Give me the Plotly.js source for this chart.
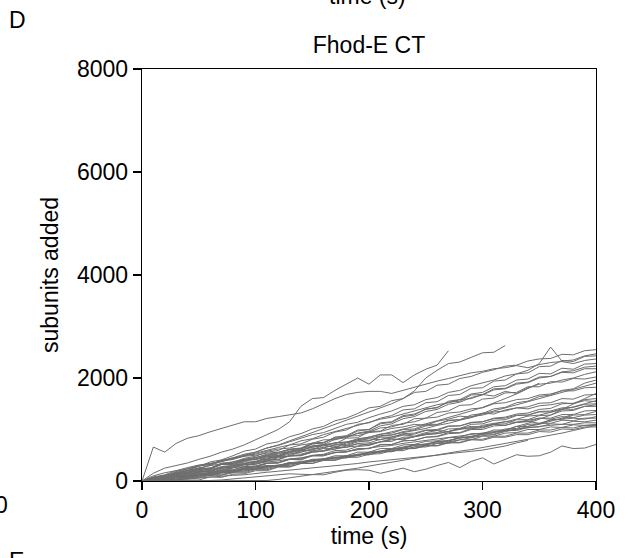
<!DOCTYPE html>
<html>
<head>
<meta charset="utf-8">
<script src="https://cdn.plot.ly/plotly-3.0.1.min.js"></script>
<style>html,body{margin:0;padding:0;background:#fff;}#chart{width:629px;height:558px;}</style>
</head>
<body>
<div id="chart"></div>
<script>
// time points (s)
const T = [0,10,20,30,40,50,60,70,80,90,100,110,120,130,140,150,160,170,180,190,200,210,220,230,240,250,260,270,280,290,300,310,320,330,340,350,360,370,380,390,400];
const xTicks = [0,100,200,300,400];
const yTicks = [0,2000,4000,6000,8000];

// subunits added, one array per filament
const s01 = [0,40,110,150,230,280,370,410,490,580,620,720,760,860,920,1010,1060,1170,1220,1310,1420,1450,1560,1600,1720,1740,1860,1880,1990,2030,2110,2160,2230,2250,2330,2370,2380,2460,2450,2530,2550];
const s02 = [0,60,80,170,200,290,320,400,450,520,560,640,690,760,820,900,940,1020,1100,1140,1230,1300,1360,1450,1480,1580,1620,1720,1760,1850,1900,1960,2040,2080,2150,2280,2600,2330,2350,2430,2470];
const s03 = [0,40,50,140,140,230,240,350,360,440,480,560,590,700,720,810,850,950,990,1100,1130,1220,1270,1380,1400,1520,1540,1660,1680,1800,1810,1940,1960,2080,2100,2220,2230,2340,2320,2420,2430];
const s04 = [0,660,560,730,830,880,955,1020,1085,1150,1150,1215,1250,1280,1320,1400,1500,1600,1680,1720,1740,1740,1700,1760,1830,1880,1940,1990,2040,2100,2130,2180,2200,2240,2200,2260,2300,2320,2280,2340,2370];
const s05 = [0,50,40,120,150,200,230,320,310,400,430,500,520,610,630,720,740,850,860,970,1000,1110,1140,1250,1280,1400,1420,1550,1580,1690,1720,1830,1850,1960,1980,2090,2080,2190,2170,2270,2280];
const s06 = [0,30,40,100,110,190,180,270,290,370,370,470,490,580,620,720,740,850,880,990,1000,1130,1150,1270,1300,1390,1430,1530,1550,1670,1680,1790,1800,1900,1920,2020,2030,2110,2100,2180,2180];
const s07 = [0,50,100,180,240,300,340,380,450,480,540,600,650,700,780,820,900,960,1020,1080,1140,1200,1240,1300,1360,1410,1480,1520,1580,1600,1680,1650,1740,1700,1810,1880,1900,1960,2000,2070,2120];
const s08 = [0,0,30,30,90,90,170,180,260,280,360,380,470,480,590,600,710,720,830,840,960,970,1080,1100,1210,1220,1330,1360,1470,1480,1590,1610,1710,1720,1830,1830,1930,1920,1990,1980,2020];
const s09 = [0,40,30,110,110,180,190,260,260,330,340,410,420,500,500,580,590,670,690,760,780,870,890,960,990,1070,1090,1180,1190,1280,1310,1400,1430,1520,1550,1640,1670,1760,1790,1900,1960];
const s10 = [0,50,70,130,160,220,250,330,340,420,450,520,550,620,640,740,750,830,850,920,950,1030,1050,1120,1150,1220,1240,1320,1340,1400,1420,1500,1520,1580,1600,1670,1690,1750,1750,1810,1820];
const s11 = [0,60,60,140,170,240,240,320,340,400,420,490,490,580,590,660,680,740,750,820,850,910,930,1000,1010,1100,1100,1170,1190,1250,1280,1340,1360,1420,1440,1510,1520,1600,1590,1670,1680];
const s12 = [0,20,20,80,80,150,160,230,250,320,320,400,410,490,490,560,580,650,650,730,740,810,830,890,910,980,980,1060,1070,1130,1150,1220,1240,1300,1320,1390,1410,1500,1510,1580,1600];
const s13 = [0,80,120,200,230,300,320,400,420,500,520,580,620,640,700,730,800,800,870,880,940,960,1020,1050,1100,1080,1160,1200,1260,1240,1320,1300,1380,1420,1400,1460,1480,1520,1500,1560,1540];
const s14 = [0,0,0,30,40,100,110,170,190,260,270,340,350,420,440,500,520,590,600,670,690,760,770,850,860,920,940,1010,1020,1100,1110,1180,1190,1270,1280,1350,1360,1420,1430,1490,1500];
const s15 = [0,70,90,160,180,250,250,330,340,410,410,480,490,560,560,630,640,700,710,780,780,850,850,920,930,990,1000,1070,1070,1140,1150,1210,1220,1280,1280,1340,1340,1400,1390,1450,1450];
const s16 = [0,30,30,90,90,150,150,220,220,280,290,350,350,420,420,490,490,560,560,630,630,700,710,780,790,850,860,920,930,1000,1000,1070,1080,1140,1150,1220,1220,1290,1290,1360,1370];
const s17 = [0,30,100,90,160,200,220,280,300,340,380,400,450,480,500,560,580,620,660,680,720,760,800,820,860,900,920,960,1000,1040,1060,1100,1150,1140,1180,1220,1200,1250,1230,1280,1290];
const s18 = [0,20,10,60,50,110,100,160,160,220,230,290,290,360,360,420,430,490,490,560,560,630,630,700,710,770,780,840,850,920,920,990,990,1060,1060,1120,1120,1180,1170,1220,1220];
const s19 = [0,60,50,130,140,180,200,250,270,310,330,370,390,430,450,490,510,550,570,610,640,670,690,730,760,790,810,850,880,910,930,960,980,1010,1030,1060,1080,1100,1100,1130,1130];
const s20 = [0,0,20,20,60,60,110,110,160,160,220,220,280,280,340,340,400,400,460,460,520,530,590,590,660,660,730,730,800,800,870,870,930,940,1000,1000,1050,1040,1090,1080,1100];
const s21 = [0,30,40,80,90,130,140,190,190,240,250,300,300,360,350,410,410,460,460,520,510,570,570,630,630,680,680,740,740,800,790,850,850,900,900,960,950,1010,1000,1050,1050];
const s22 = [0,60,110,150,200,240,300,330,380,420,460,500,540,560,610,650,700,650,740,780,820,800,860,900,870,940,980,960,1020,1060,1040,1100,1080,1140,1160,1120,1180,1200,1220,1200,1250];
const s23 = [0,0,0,0,20,20,80,70,130,140,200,200,270,270,340,340,410,410,480,490,550,560,620,630,700,700,770,770,840,850,910,910,980,980,1040,1050,1110,1100,1160,1150,1180];
const s24 = [0,20,20,70,70,120,120,170,170,230,230,280,280,340,340,400,400,460,450,510,510,570,570,630,630,690,690,750,750,810,810,870,870,930,930,990,990,1040,1030,1080,1080];
const s25 = [0,150,250,300,350,420,480,560,620,700,800,900,1000,1150,1450,1600,1620,1760,1880,2000,1880,2060,2060,1910,2060,2170,2250,2530];
const s26 = [0,30,80,130,200,250,300,380,440,500,560,640,700,780,860,940,1020,1100,1180,1260,1340,1420,1500,1600,1750,2000,2150,2280,2310,2400,2490,2500,2630];
const s27 = [0,0,10,20,40,50,70,90,110,120,150,170,190,210,230,260,280,300,320,340,370,390,410,430,460,480,500,530,550,580,600,640,680,740,790];
const s28 = [0,0,0,0,0,0,10,20,40,60,80,100,120,140,130,120,120,170,210,220,210,150,200,250,180,230,300,360,260,380,450,330,420,510,480,490,560,680,630,640,710];
const s29 = [0,0,0,0,0,0,0,0,0,0,10,10,30,60,90,120,150,180,220,250,290,330,360,400,440,470,510,540,580,610,650,690,720,760,800,850,890,930,980,1030,1080];
const s30 = [0,20,60,90,130,170,210,250,300,340,380,430,470,520,560,610,650,700,750,800,850,900,950,1000,1060,1110,1170,1230,1290,1360,1430,1510,1600,1690,1800,1900];
const s31 = [0,40,30,80,120,110,170,200,190,250,280,300,290,350,380,400,430,460,450,500,540,560,600,620,660,700,740,760,800,850,880,900,960,1000,1060,1100,1160,1220,1300];
const s32 = [0,10,40,60,90,110,140,170,190,220,260,280,310,340,360,390,420,450,480,510,550,580,620,660,700];
const s33 = [0,70,100,130,200,220,250,330,320,380,440,420,490,540,520,580,630,620,680,720,700,760,820,800,860,900,920,960,1020,1010,1080,1120,1150,1200,1260,1280,1330,1380,1440,1500,1560];
const s34 = [0,40,30,90,90,170,180,250,270,340,370,450,470,560,590,680,710,810,840,930,970,1070,1110,1210,1250,1350,1390,1490,1530,1620,1670,1770,1790,1880,1910,2000,2030,2120,2140,2210,2230];
const s35 = [0,30,40,80,80,150,150,200,210,280,290,340,360,420,410,490,490,550,570,620,630,710,710,780,790,850,870,940,940,1020,1030,1100,1110,1190,1190,1270,1280,1360,1370,1450,1480];
const s36 = [0,100,160,200,260,310,340,380,420,480,500,540,560,610,630,680,700,740,760,800,830,880,900,940,980,1020,1080,1120,1180,1230,1300,1360,1420,1480,1540,1600,1660,1720,1780,1840,1900];
const s37 = [0,0,30,20,80,70,130,120,180,180,240,240,300,300,360,370,430,430,490,490,560,560,630,630,700,710,770,780,850,860,920,940,1010,1020,1100,1110,1190,1200,1280,1290,1350];
const s38 = [0,10,30,40,70,100,120,150,180,200,230,260,290,320,350,380,410,450,480,510,550,580,620,650,690,720,760,790,830,870,900,940,980,1060,1120,1200,1280,1390,1500,1600,1700];

const series = [s01,s02,s03,s04,s05,s06,s07,s08,s09,s10,s11,s12,s13,s14,s15,s16,s17,s18,s19,s20,
                s21,s22,s23,s24,s25,s26,s27,s28,s29,s30,s31,s32,s33,s34,s35,s36,s37,s38];

const LINE = '#6e6e6e';
const FONT = 'Liberation Sans, Arial, Helvetica, sans-serif';

const traces = series.map(s => ({
  x: T.slice(0, s.length),
  y: s,
  type: 'scatter',
  mode: 'lines',
  line: {color: LINE, width: 1},
  hoverinfo: 'skip',
  showlegend: false
}));

// plot area in pixels: x 142..596, y 69..481
const L = 142, R = 596, TOP = 69, BOT = 481;
const px = v => (v - L) / (R - L);
const py = v => (BOT - v) / (BOT - TOP);

const layout = {
  width: 629, height: 558,
  margin: {l: L, r: 629 - R, t: TOP, b: 558 - BOT, pad: 0},
  paper_bgcolor: '#fff', plot_bgcolor: '#fff',
  font: {family: FONT, size: 23, color: '#000'},
  showlegend: false,
  title: {text: 'Fhod-E CT', font: {family: FONT, size: 23, color: '#000'},
          x: 0.5, xref: 'paper', xanchor: 'center', y: 1 - 45/558, yref: 'container', yanchor: 'middle'},
  xaxis: {
    range: [0, 400], tickvals: xTicks, ticktext: xTicks.map(String),
    ticks: 'outside', ticklen: 8, tickwidth: 1.3, tickcolor: '#000',
    showline: true, mirror: true, linecolor: '#000', linewidth: 1.3,
    showgrid: false, zeroline: false,
    tickfont: {family: FONT, size: 23, color: '#000'},
    title: {text: 'time (s)', font: {family: FONT, size: 23, color: '#000'}, standoff: 6},
    automargin: false
  },
  yaxis: {
    range: [0, 8000], tickvals: yTicks, ticktext: yTicks.map(String),
    ticks: 'outside', ticklen: 8, tickwidth: 1.3, tickcolor: '#000',
    showline: true, mirror: true, linecolor: '#000', linewidth: 1.3,
    showgrid: false, zeroline: false,
    tickfont: {family: FONT, size: 23, color: '#000'},
    title: {text: 'subunits added', font: {family: FONT, size: 23, color: '#000'}, standoff: 12},
    automargin: false
  },
  annotations: [
    {text: 'D', xref: 'paper', yref: 'paper', x: px(17), y: py(20), xanchor: 'center', yanchor: 'middle', showarrow: false, font: {family: FONT, size: 23, color: '#000'}},
    {text: 'time (s)', xref: 'paper', yref: 'paper', x: px(367), y: py(-4), xanchor: 'center', yanchor: 'middle', showarrow: false, font: {family: FONT, size: 23, color: '#000'}},
    {text: '0', xref: 'paper', yref: 'paper', x: px(1), y: py(505), xanchor: 'center', yanchor: 'middle', showarrow: false, font: {family: FONT, size: 23, color: '#000'}},
    {text: 'E', xref: 'paper', yref: 'paper', x: px(16), y: py(561), xanchor: 'center', yanchor: 'middle', showarrow: false, font: {family: FONT, size: 23, color: '#000'}}
  ]
};

Plotly.newPlot('chart', traces, layout, {displayModeBar: false, staticPlot: true});
</script>
</body>
</html>
